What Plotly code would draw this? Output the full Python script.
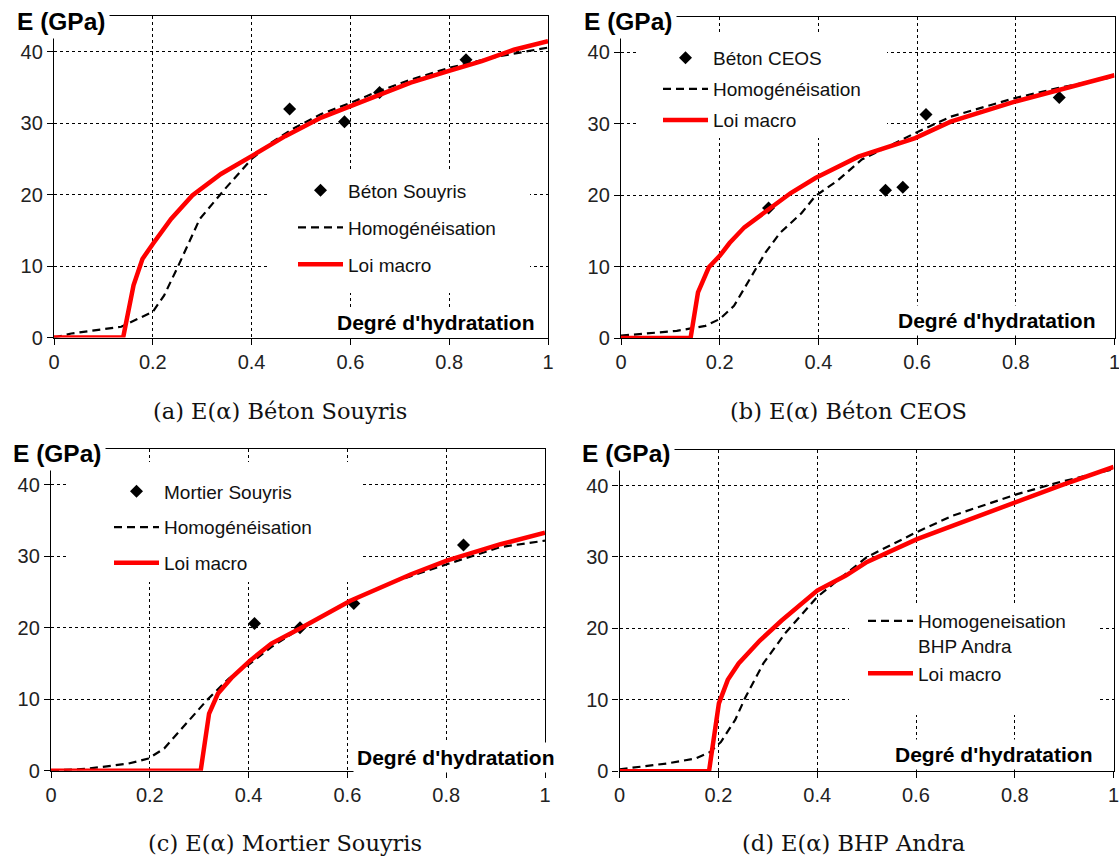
import plotly.graph_objects as go

W, H = 1119, 857

# ---------------- data ----------------
# (a) Béton Souyris
a_macro_x = [0, 0.14, 0.161, 0.179, 0.2, 0.237, 0.28, 0.338, 0.4, 0.468, 0.541, 0.602, 0.657, 0.722, 0.798, 0.866, 0.931, 1.0]
a_macro_y = [0, 0, 7.3, 11.0, 13.1, 16.6, 19.9, 22.9, 25.4, 28.2, 30.8, 32.4, 34.0, 35.7, 37.3, 38.7, 40.3, 41.5]
a_hom_x = [0, 0.035, 0.136, 0.2, 0.223, 0.252, 0.295, 0.346, 0.4, 0.44, 0.483, 0.541, 0.602, 0.657, 0.722, 0.801, 0.902, 1.0]
a_hom_y = [0, 0.56, 1.5, 3.6, 5.9, 10.1, 16.6, 20.8, 25.0, 27.3, 29.2, 31.3, 32.9, 34.5, 36.1, 37.8, 39.4, 40.6]
a_pts_x = [0.477, 0.588, 0.659, 0.834]
a_pts_y = [32.0, 30.2, 34.3, 38.9]

# (b) Béton CEOS
b_macro_x = [0, 0.141, 0.156, 0.178, 0.2, 0.22, 0.25, 0.301, 0.344, 0.394, 0.481, 0.596, 0.668, 0.798, 0.885, 1.0]
b_macro_y = [0, 0, 6.4, 9.9, 11.5, 13.3, 15.5, 18.2, 20.3, 22.4, 25.4, 28.0, 30.3, 33.1, 34.7, 36.8]
b_hom_x = [0, 0.113, 0.171, 0.2, 0.229, 0.265, 0.293, 0.322, 0.366, 0.394, 0.438, 0.488, 0.539, 0.596, 0.668, 0.74, 0.798, 0.885, 1.0]
b_hom_y = [0.33, 1.0, 1.7, 2.65, 4.5, 8.7, 12.0, 14.7, 17.5, 19.9, 22.0, 25.0, 26.8, 28.7, 31.0, 32.4, 33.6, 35.0, 36.6]
b_pts_x = [0.299, 0.536, 0.571, 0.618, 0.888]
b_pts_y = [18.2, 20.7, 21.1, 31.3, 33.7]

# (c) Mortier Souyris
c_macro_x = [0, 0.303, 0.32, 0.338, 0.367, 0.403, 0.446, 0.504, 0.606, 0.729, 0.801, 0.91, 1.0]
c_macro_y = [0, 0, 8.0, 10.8, 13.1, 15.4, 17.8, 19.9, 23.8, 27.5, 29.4, 31.7, 33.3]
c_hom_x = [0, 0.077, 0.157, 0.197, 0.229, 0.273, 0.316, 0.36, 0.403, 0.446, 0.504, 0.606, 0.692, 0.801, 0.91, 1.0]
c_hom_y = [0, 0.3, 1.0, 1.7, 3.1, 6.6, 9.9, 12.9, 15.0, 17.3, 19.9, 23.8, 26.4, 28.9, 31.3, 32.2]
c_pts_x = [0.412, 0.504, 0.613, 0.835]
c_pts_y = [20.6, 20.0, 23.4, 31.6]

# (d) BHP Andra
d_macro_x = [0, 0.181, 0.201, 0.219, 0.241, 0.284, 0.328, 0.4, 0.458, 0.501, 0.602, 0.675, 0.805, 0.892, 1.0]
d_macro_y = [0, 0, 9.5, 12.8, 15.1, 18.3, 21.1, 25.3, 27.4, 29.3, 32.5, 34.4, 37.9, 40.0, 42.6]
d_hom_x = [0, 0.096, 0.154, 0.183, 0.205, 0.234, 0.255, 0.291, 0.335, 0.4, 0.45, 0.501, 0.602, 0.675, 0.805, 0.892, 1.0]
d_hom_y = [0.28, 1.1, 1.8, 2.7, 4.1, 7.2, 10.4, 15.1, 19.3, 24.4, 27.2, 30.0, 33.5, 35.8, 38.8, 40.5, 42.3]

x_ticks = [0, 0.2, 0.4, 0.6, 0.8, 1]
x_tick_text = ["0", "0.2", "0.4", "0.6", "0.8", "1"]
y_ticks = [0, 10, 20, 30, 40]
y_tick_text = ["0", "10", "20", "30", "40"]

captions = ["(a) E(α) Béton Souyris", "(b) E(α) Béton CEOS",
            "(c) E(α) Mortier Souyris", "(d) E(α) BHP Andra"]
names_pts = ["Béton Souyris", "Béton CEOS", "Mortier Souyris", None]
names_hom = ["Homogénéisation", "Homogénéisation", "Homogénéisation",
             "Homogeneisation<br>BHP Andra"]
name_macro = "Loi macro"

# ---------------- layout geometry (pixels -> paper) ----------------
def px(x):
    return x / W

def py(y):
    return 1 - y / H

# plot area: left, right (x=0..1), bottom (y=0), top (y=45)
panels = [
    dict(l=54, r=548, b=337.5, t=16.2),
    dict(l=621, r=1114.5, b=338.0, t=16.7),
    dict(l=51, r=545, b=770.7, t=449.2),
    dict(l=619.6, r=1113.6, b=771.3, t=449.8),
]

SANS = "Liberation Sans, Arial, sans-serif"
SERIF = "DejaVu Serif, serif"
RED = "#ff0000"

fig = go.Figure()

datasets = [
    (a_macro_x, a_macro_y, a_hom_x, a_hom_y, a_pts_x, a_pts_y),
    (b_macro_x, b_macro_y, b_hom_x, b_hom_y, b_pts_x, b_pts_y),
    (c_macro_x, c_macro_y, c_hom_x, c_hom_y, c_pts_x, c_pts_y),
    (d_macro_x, d_macro_y, d_hom_x, d_hom_y, None, None),
]

legend_names = ["legend", "legend2", "legend3", "legend4"]

for i, (mx, my, hx, hy, ptx, pty) in enumerate(datasets):
    xa = "x" if i == 0 else f"x{i+1}"
    ya = "y" if i == 0 else f"y{i+1}"
    lg = legend_names[i]
    if ptx is not None:
        fig.add_trace(go.Scatter(
            x=ptx, y=pty, mode="markers", name=names_pts[i],
            marker=dict(symbol="diamond", size=10, color="black"),
            xaxis=xa, yaxis=ya, legend=lg, legendgroup=f"p{i}", cliponaxis=False))
    fig.add_trace(go.Scatter(
        x=hx, y=hy, mode="lines", name=names_hom[i],
        line=dict(color="black", width=2.2, dash="8px,5px"),
        xaxis=xa, yaxis=ya, legend=lg, legendgroup=f"h{i}"))
    fig.add_trace(go.Scatter(
        x=mx, y=my, mode="lines", name=name_macro,
        line=dict(color=RED, width=4.5),
        xaxis=xa, yaxis=ya, legend=lg, legendgroup=f"m{i}", cliponaxis=False))

axis_common = dict(
    showline=True, linecolor="black", linewidth=1.3, mirror=True,
    ticks="outside", ticklen=6, tickcolor="black", tickwidth=1.3,
    showgrid=True, gridcolor="black", gridwidth=1, griddash="3px,3px",
    zeroline=False, tickfont=dict(family=SANS, size=20, color="#222"),
    fixedrange=True, automargin=False, ticklabeloverflow="allow",
)

layout = dict(
    width=W, height=H, autosize=False,
    margin=dict(l=0, r=0, t=0, b=0, pad=0, autoexpand=False),
    paper_bgcolor="white", plot_bgcolor="white",
    showlegend=True,
)

for i, p in enumerate(panels):
    sx = "" if i == 0 else str(i + 1)
    layout[f"xaxis{sx}"] = dict(
        axis_common, domain=[px(p["l"]), px(p["r"])], range=[0, 1],
        tickvals=x_ticks, ticktext=x_tick_text, anchor=f"y{sx}")
    layout[f"yaxis{sx}"] = dict(
        axis_common, domain=[py(p["b"]), py(p["t"])], range=[0, 45],
        tickvals=y_ticks, ticktext=y_tick_text, anchor=f"x{sx}")

# legends (top-left corner in px) and gap between entries
leg_pos = [(293, 171.5, 9.3), (658, 39, 3.4), (109, 472.5, 8), (863, 602, 0)]
for i, (lx, ly, gap) in enumerate(leg_pos):
    layout[legend_names[i]] = dict(
        x=px(lx), y=py(ly), xanchor="left", yanchor="top",
        bgcolor="rgba(0,0,0,0)", borderwidth=0, itemwidth=45,
        tracegroupgap=gap, valign="top", traceorder="grouped",
        font=dict(family=SANS, size=19, color="#111"))

fig.update_layout(**layout)

# white boxes behind legends (hide gridlines), in data units of each panel
boxes = [(270, 530, 172, 293), (637, 887, 33, 138), (66, 361, 462, 582), (849, 1099, 603, 715)]
for i, (x0, x1, y0, y1) in enumerate(boxes):
    p = panels[i]
    sx = "" if i == 0 else str(i + 1)
    fx = (lambda v, p=p: (v - p["l"]) / (p["r"] - p["l"]))
    fy = (lambda v, p=p: 45 * (p["b"] - v) / (p["b"] - p["t"]))
    fig.add_shape(type="rect", xref=f"x{sx}", yref=f"y{sx}",
                  x0=fx(x0), x1=fx(x1), y0=fy(y1), y1=fy(y0),
                  fillcolor="white", line=dict(width=0), layer="between")

# axis titles as boxed labels
e_pos = [(61.5, 22), (628.5, 22), (57, 453), (626, 454)]
d_pos = [(436, 322), (996.6, 320), (455.5, 757), (994, 754)]
for (ex, ey) in e_pos:
    fig.add_annotation(text="<b>E (GPa)</b>", x=px(ex), y=py(ey), xref="paper", yref="paper",
                       xanchor="center", yanchor="middle", showarrow=False,
                       font=dict(family=SANS, size=24.5, color="black"),
                       bgcolor="white", borderpad=3)
for (dx, dy) in d_pos:
    fig.add_annotation(text="<b>Degré d'hydratation</b>", x=px(dx), y=py(dy), xref="paper", yref="paper",
                       xanchor="center", yanchor="middle", showarrow=False,
                       font=dict(family=SANS, size=21, color="black"),
                       bgcolor="white", borderpad=3)

cap_pos = [(280, 411), (848, 411), (285, 843), (853, 843)]
for (cx, cy), txt in zip(cap_pos, captions):
    fig.add_annotation(text=txt, x=px(cx), y=py(cy), xref="paper", yref="paper",
                       xanchor="center", yanchor="middle", showarrow=False,
                       font=dict(family=SERIF, size=22.5, color="#111"))

fig.write_html(
    "out.html",
    config={"responsive": False, "displayModeBar": False},
    post_script="document.body.style.margin='0';document.body.style.overflow='hidden';",
)
